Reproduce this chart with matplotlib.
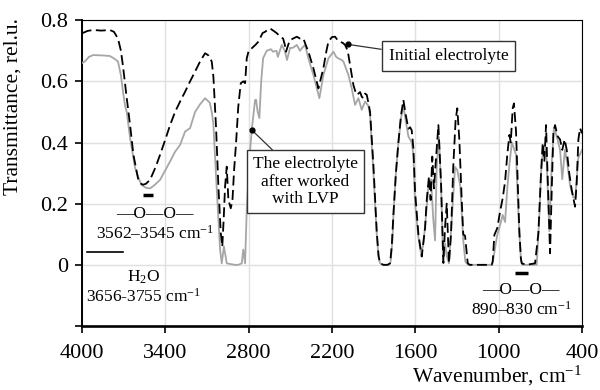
import matplotlib
matplotlib.use("Agg")
import matplotlib.pyplot as plt

plt.rcParams['font.family'] = ['Liberation Serif', 'DejaVu Serif']
plt.rcParams['mathtext.fontset'] = 'custom'
plt.rcParams['mathtext.rm'] = 'Liberation Serif'
plt.rcParams['mathtext.default'] = 'regular'

# Initial electrolyte (dashed black)
wn_initial = [4000, 3960, 3920, 3860, 3800, 3770, 3741, 3720, 3705, 3690, 3678, 3654, 3630, 3597,
              3575, 3561, 3540, 3510, 3470, 3438, 3400, 3366, 3330, 3294, 3258, 3222, 3186, 3150,
              3114, 3090, 3066, 3054, 3035, 3018, 3001, 2990, 2980, 2970, 2958, 2946, 2929, 2917,
              2905, 2891, 2875, 2857, 2839, 2826, 2814, 2800, 2778, 2750, 2730, 2700,
              2682, 2660, 2646, 2620, 2596, 2570, 2552, 2540, 2531, 2515, 2502, 2480, 2454, 2430,
              2406, 2390, 2370, 2334, 2298, 2280, 2262, 2240, 2226, 2200, 2178, 2160, 2142, 2120,
              2106, 2087, 2070, 2046, 2034, 2022, 2010, 1998, 1986, 1975, 1962, 1950, 1938, 1926,
              1902, 1878, 1865, 1854, 1830, 1800, 1782, 1770, 1758, 1740, 1722, 1703, 1686, 1669,
              1650, 1638, 1626, 1614, 1602, 1578, 1554, 1530, 1518, 1502, 1490, 1478, 1466, 1454,
              1434, 1415, 1398, 1386, 1374, 1358, 1343, 1327, 1310, 1298, 1283, 1266, 1255, 1242,
              1223, 1210, 1100, 1050, 1043, 1031, 1010, 990, 971, 954,
              938, 923, 913, 899, 890, 875, 863, 851, 840, 834, 800, 738, 714, 695, 683, 671,
              659, 647, 630, 617, 606, 594, 575, 558, 542, 525, 510, 492, 474, 450, 438, 426,
              414, 400]
t_initial = [0.757, 0.765, 0.768, 0.766, 0.768, 0.762, 0.74, 0.70, 0.65, 0.59, 0.545, 0.457, 0.36, 0.283,
             0.265, 0.262, 0.265, 0.278, 0.32, 0.36, 0.41, 0.457, 0.50, 0.534, 0.566, 0.60, 0.632, 0.665,
             0.692, 0.685, 0.665, 0.615, 0.45, 0.256, 0.104, 0.06, 0.15, 0.256, 0.321, 0.212, 0.185, 0.21,
             0.31, 0.398, 0.517, 0.594, 0.60, 0.594, 0.675, 0.70, 0.708, 0.72, 0.73, 0.758,
             0.762, 0.77, 0.773, 0.765, 0.757, 0.745, 0.74, 0.72, 0.697, 0.72, 0.735, 0.74, 0.746, 0.74,
             0.74, 0.72, 0.697, 0.643, 0.577, 0.61, 0.643, 0.70, 0.73, 0.745, 0.746, 0.735, 0.73, 0.725,
             0.719, 0.70, 0.654, 0.588, 0.57, 0.556, 0.56, 0.565, 0.55, 0.545, 0.56, 0.556, 0.53, 0.50,
             0.327, 0.109, 0.03, 0.005, 0.0, 0.0, 0.005, 0.06, 0.163, 0.30, 0.40, 0.49, 0.539, 0.49,
             0.445, 0.45, 0.44, 0.381, 0.24, 0.10, 0.027, 0.12, 0.212, 0.289, 0.212, 0.354, 0.25, 0.33,
             0.457, 0.268, 0.006, 0.125, 0.20, 0.006, 0.10, 0.321, 0.474, 0.512, 0.408, 0.212, 0.10, 0.095,
             0.006, 0.0, 0.0, 0.0, 0.01, 0.098, 0.12, 0.174, 0.218, 0.272,
             0.36, 0.425, 0.40, 0.512, 0.528, 0.436, 0.272, 0.109, 0.02, 0.005, 0.0, 0.005, 0.104, 0.30,
             0.398, 0.34, 0.457, 0.28, 0.038, 0.26, 0.43, 0.457, 0.42, 0.41, 0.376, 0.41, 0.376, 0.30,
             0.245, 0.19, 0.27, 0.41, 0.447, 0.43]

# Electrolyte after working with LVP (solid gray)
wn_after = [4000, 3980, 3950, 3920, 3860, 3800, 3770, 3741, 3720, 3705, 3690, 3678, 3654, 3618, 3590,
            3570, 3540, 3510, 3480, 3438, 3400, 3366, 3330, 3294, 3258, 3222, 3186, 3150, 3114, 3080,
            3066, 3054, 3035, 3018, 3006, 2994, 2978, 2958, 2900, 2875, 2850, 2839, 2826, 2814, 2795,
            2778, 2754, 2747, 2735, 2723, 2710, 2696, 2670, 2640, 2624, 2600, 2590, 2562, 2540, 2524,
            2502, 2480, 2454, 2430, 2418, 2394, 2370, 2334, 2291, 2262, 2226, 2190, 2170, 2154, 2130,
            2118, 2082, 2058, 2034, 2010, 1986, 1962, 1938, 1926, 1902, 1878, 1865, 1854, 1830, 1790,
            1778, 1765, 1758, 1740, 1722, 1703, 1686, 1669, 1650, 1626, 1614, 1602, 1578, 1560, 1545,
            1530, 1506, 1487, 1471, 1458, 1446, 1430, 1415, 1400, 1386, 1374, 1358, 1335, 1314, 1298,
            1276, 1255, 1240, 1220, 1050, 1038, 1026, 1010, 990,
            971, 954, 938, 923, 905, 890, 875, 863, 851, 840, 830, 726, 707, 695, 679, 667, 655, 643,
            635, 617, 602, 582, 558, 542, 523, 505, 486, 462, 448, 427, 400]
t_after = [0.66, 0.665, 0.68, 0.686, 0.685, 0.683, 0.675, 0.665, 0.62, 0.566, 0.52, 0.50, 0.415, 0.317, 0.28,
           0.261, 0.252, 0.25, 0.26, 0.278, 0.31, 0.338, 0.37, 0.392, 0.436, 0.447, 0.50, 0.525, 0.545, 0.53,
           0.50, 0.46, 0.29, 0.147, 0.05, 0.005, 0.06, 0.005, 0.0, 0.0, 0.005, 0.05, 0.005, 0.18, 0.343,
           0.441, 0.539, 0.54, 0.50, 0.48, 0.60, 0.676, 0.70, 0.705, 0.697, 0.70, 0.68, 0.719, 0.70, 0.67,
           0.709, 0.71, 0.719, 0.70, 0.708, 0.719, 0.675, 0.621, 0.545, 0.621, 0.675, 0.697, 0.68, 0.675, 0.67,
           0.665, 0.621, 0.577, 0.523, 0.545, 0.507, 0.534, 0.52, 0.49, 0.30, 0.10, 0.025, 0.005, 0.0, 0.0,
           0.01, 0.08, 0.16, 0.30, 0.40, 0.48, 0.52, 0.47, 0.42, 0.40, 0.36, 0.20, 0.09, 0.04, 0.06,
           0.125, 0.256, 0.28, 0.15, 0.08, 0.32, 0.418, 0.26, 0.01, 0.07, 0.03, 0.005, 0.17, 0.32, 0.31,
           0.256, 0.08, 0.01, 0.0, 0.0, 0.02, 0.055, 0.098, 0.13,
           0.163, 0.14, 0.25, 0.327, 0.40, 0.38, 0.36, 0.22, 0.10, 0.02, 0.0, 0.0, 0.16, 0.30, 0.387, 0.39, 0.345, 0.20,
           0.11, 0.34, 0.45, 0.42, 0.376, 0.28, 0.376, 0.33, 0.26, 0.22, 0.22, 0.35, 0.376]

x_ticks = [4000, 3400, 2800, 2200, 1600, 1000, 400]
y_ticks = [-0.2, 0.0, 0.2, 0.4, 0.6, 0.8]
y_ticklabels = ['', '0', '0.2', '0.4', '0.6', '0.8']

fig = plt.figure(figsize=(6, 3.9), dpi=100)
ax = fig.add_axes([0.1367, 0.1641, 0.8333, 0.7841])

ax.plot(wn_after, t_after, color='#a6a6a6', lw=1.3, zorder=3)
ax.plot(wn_initial, t_initial, color='black', lw=1.3, dashes=(5.5, 2.5), zorder=4)

ax.set_xlim(4000, 400)
ax.set_ylim(-0.2, 0.8)
ax.set_xticks(x_ticks)
ax.set_xticklabels([str(v) for v in x_ticks])
ax.set_yticks(y_ticks)
ax.set_yticklabels(y_ticklabels)
ax.grid(True, color='#e0e0e0', lw=1.0, zorder=0)
ax.set_axisbelow(True)
ax.tick_params(axis='both', direction='out', length=5, width=1.2, labelsize=16, colors='black')
ax.tick_params(axis='x', pad=8)
ax.tick_params(axis='y', pad=5)
ax.spines['left'].set_linewidth(1.4)
ax.spines['bottom'].set_linewidth(1.9)
ax.spines['top'].set_linewidth(0.8)
ax.spines['right'].set_linewidth(0.8)

ax.set_ylabel('Transmittance, rel.u.', fontsize=15.5)
ax.yaxis.set_label_coords(-0.118, 0.716)
ax.set_xlabel('Wavenumber, cm$^{-1}$', fontsize=15.5, ha='right', va='center')
ax.xaxis.set_label_coords(1.0, -0.163)

# Annotation boxes with leader lines
ax.annotate('Initial electrolyte', xy=(2087, 0.721), xytext=(1361, 0.683),
            fontsize=12.5, ha='center', va='center',
            bbox=dict(boxstyle='square,pad=0.4', fc='white', ec='#333333', lw=1.0),
            arrowprops=dict(arrowstyle='-', color='#333333', lw=0.9, shrinkA=0, shrinkB=0,
                            relpos=(0, 0.85)), zorder=6)
ax.plot([2087], [0.721], 'o', color='black', ms=3.5, zorder=7)

ax.annotate('The electrolyte\nafter worked\nwith LVP', xy=(2778, 0.441), xytext=(2391, 0.272),
            fontsize=12.5, ha='center', va='center', linespacing=1.1,
            bbox=dict(boxstyle='square,pad=0.35', fc='white', ec='#333333', lw=1.0),
            arrowprops=dict(arrowstyle='-', color='#333333', lw=0.9, shrinkA=0, shrinkB=0,
                            relpos=(0.25, 1.0)), zorder=6)
ax.plot([2778], [0.441], 'o', color='black', ms=3.5, zorder=7)

# Band markers
ax.plot([3559, 3487], [0.229, 0.229], color='black', lw=2.5, solid_capstyle='butt', zorder=5)
ax.text(3476, 0.165, '\u2014O\u2014O\u2014', fontsize=12.5, ha='center', va='center')
ax.text(3476, 0.103, '3562\u20133545 cm$^{-1}$', fontsize=12.5, ha='center', va='center')

ax.plot([3966, 3703], [0.043, 0.043], color='black', lw=1.2, zorder=5)
ax.text(3555, -0.04, 'H$_2$O', fontsize=12.5, ha='center', va='center')
ax.text(3555, -0.104, '3656-3755 cm$^{-1}$', fontsize=12.5, ha='center', va='center')

ax.plot([882, 787], [-0.027, -0.027], color='black', lw=2.5, solid_capstyle='butt', zorder=5)
ax.text(838, -0.082, '\u2014O\u2014O\u2014', fontsize=12.5, ha='center', va='center')
ax.text(838, -0.147, '890\u2013830 cm$^{-1}$', fontsize=12.5, ha='center', va='center')

fig.savefig('out.png', dpi=100)
